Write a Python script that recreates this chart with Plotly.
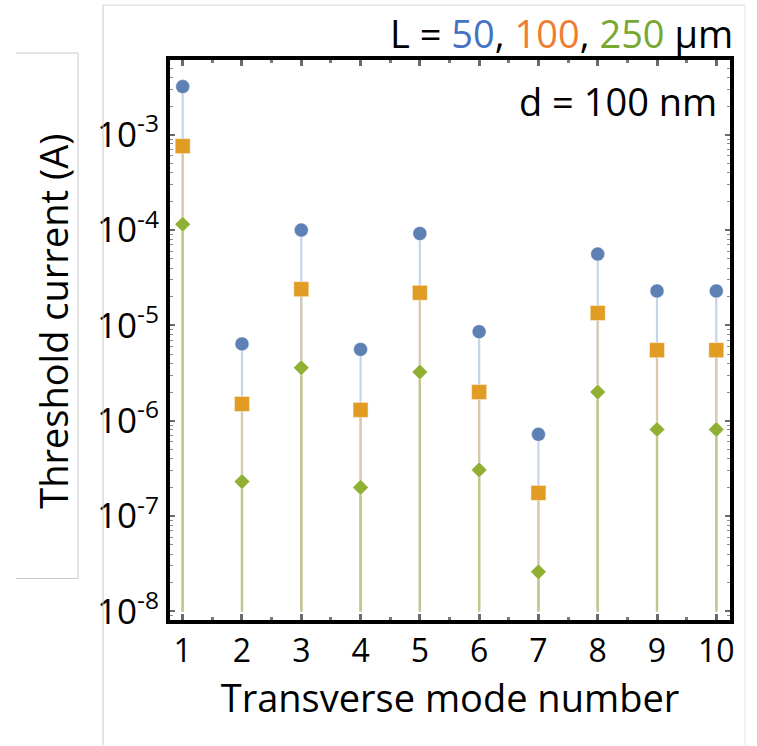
import plotly.graph_objects as go

# ---- data ----
modes = [1, 2, 3, 4, 5, 6, 7, 8, 9, 10]
I_50 = [3.2e-3, 6.4e-6, 1.0e-4, 5.6e-6, 9.2e-5, 8.6e-6, 7.2e-7, 5.6e-5, 2.3e-5, 2.3e-5]
I_100 = [7.6e-4, 1.5e-6, 2.4e-5, 1.3e-6, 2.2e-5, 2.0e-6, 1.75e-7, 1.35e-5, 5.5e-6, 5.5e-6]
I_250 = [1.15e-4, 2.3e-7, 3.6e-6, 2.0e-7, 3.25e-6, 3.05e-7, 2.6e-8, 2.0e-6, 8.1e-7, 8.1e-7]
stem_base = 1e-8

x_ticks = [1, 2, 3, 4, 5, 6, 7, 8, 9, 10]
x_tick_text = ["1", "2", "3", "4", "5", "6", "7", "8", "9", "10"]
y_ticks = [1e-3, 1e-4, 1e-5, 1e-6, 1e-7, 1e-8]
y_tick_text = ["10<sup>-3</sup>", "10<sup>-4</sup>", "10<sup>-5</sup>", "10<sup>-6</sup>",
               "10<sup>-7</sup>", "10<sup>-8</sup>"]

FONT = "Open Sans"
W, H = 757, 746
L_M, R_M, T_M, B_M = 170, 27, 60, 125.5

series = [
    ("L = 50 µm", I_50, "#5e81b5", "#c5d4ea", "circle", 14),
    ("L = 100 µm", I_100, "#e19c24", "#d9c9a9", "square", 15),
    ("L = 250 µm", I_250, "#8fb032", "#c2c68c", "diamond", 12),
]


def stems(xs, ys, base):
    sx, sy = [], []
    for a, b in zip(xs, ys):
        sx += [a, a, None]
        sy += [base, b, None]
    return sx, sy


fig = go.Figure()
for name, vals, col, scol, sym, size in series:
    sx, sy = stems(modes, vals, stem_base)
    fig.add_trace(go.Scatter(x=sx, y=sy, mode="lines", line=dict(color=scol, width=2.2),
                             hoverinfo="skip", showlegend=False))
for name, vals, col, scol, sym, size in series:
    fig.add_trace(go.Scatter(x=modes, y=vals, mode="markers", name=name, showlegend=False,
                             marker=dict(symbol=sym, size=size, color=col,
                                         line=dict(width=0.8, color="rgba(255,255,255,0.55)"))))

# minor tick positions (axis furniture)
x_minor = [v + 0.5 for v in x_ticks[:-1]]
y_minor = [m * 10.0 ** e for e in range(-9, -1) for m in range(2, 10)]


def px2paper(px, py):
    pw = W - L_M - R_M
    ph = H - T_M - B_M
    return (px - L_M) / pw, (H - B_M - py) / ph


fig.update_layout(
    width=W, height=H,
    margin=dict(l=L_M, r=R_M, t=T_M, b=B_M, pad=0),
    paper_bgcolor="white", plot_bgcolor="white",
    font=dict(family=FONT, color="black"),
    showlegend=False,
    xaxis=dict(
        range=[0.786, 10.231], showgrid=False, zeroline=False,
        showline=True, linecolor="black", linewidth=4, mirror="ticks",
        tickmode="array", tickvals=x_ticks, ticktext=x_tick_text,
        ticks="inside", ticklen=6, tickwidth=3, tickcolor="#6a6a6a",
        tickfont=dict(size=32, family=FONT, color="black"),
        minor=dict(tickmode="array", tickvals=x_minor, ticks="inside", ticklen=3,
                   tickwidth=3, tickcolor="#7a7a7a", showgrid=False),
        title=dict(text="Transverse mode number", font=dict(size=38, family=FONT, color="black"),
                   standoff=6),
    ),
    yaxis=dict(
        type="log", range=[-8.09, -2.216], showgrid=False, zeroline=False,
        showline=True, linecolor="black", linewidth=4, mirror="ticks",
        tickmode="array", tickvals=y_ticks, ticktext=y_tick_text,
        ticks="inside", ticklen=5, tickwidth=1.5, tickcolor="#6a6a6a",
        tickfont=dict(size=35, family=FONT, color="black"),
        minor=dict(tickmode="array", tickvals=y_minor, ticks="inside", ticklen=3,
                   tickwidth=1, tickcolor="#8a8a8a", showgrid=False),
    ),
)

# y-axis title
tx, ty = px2paper(53, 322)
fig.add_annotation(text="Threshold current (A)", xref="paper", yref="paper", x=tx, y=ty,
                   xanchor="center", yanchor="middle", textangle=-90, showarrow=False,
                   font=dict(size=38, family=FONT, color="black"))

# top-right labels
lx, ly = px2paper(735, 33)
fig.add_annotation(
    text="L = <span style='color:#4672c4'>50</span>, <span style='color:#ef7d31'>100</span>, "
         "<span style='color:#78a832'>250</span> µm",
    xref="paper", yref="paper", x=lx, y=ly, xanchor="right", yanchor="middle",
    showarrow=False, font=dict(size=38, family=FONT, color="black"))
dx, dy = px2paper(719, 101)
fig.add_annotation(text="d = 100 nm", xref="paper", yref="paper", x=dx, y=dy,
                   xanchor="right", yanchor="middle", showarrow=False,
                   font=dict(size=38, family=FONT, color="black"))

# light gray frame lines of the surrounding slide boxes
def seg(p0, p1, color):
    a = px2paper(*p0)
    b = px2paper(*p1)
    fig.add_shape(type="line", xref="paper", yref="paper", x0=a[0], y0=a[1], x1=b[0], y1=b[1],
                  line=dict(color=color, width=1))

seg((16, 53), (78, 53), "#c8c8c8")
seg((78, 53), (78, 579), "#c8c8c8")
seg((16, 579), (78, 579), "#c8c8c8")
seg((103, 5), (103, 746), "#c8c8c8")
seg((103, 5), (745, 5), "#d4d4d4")
seg((745, 5), (745, 746), "#e6e6e6")

fig.write_html("out.html")
